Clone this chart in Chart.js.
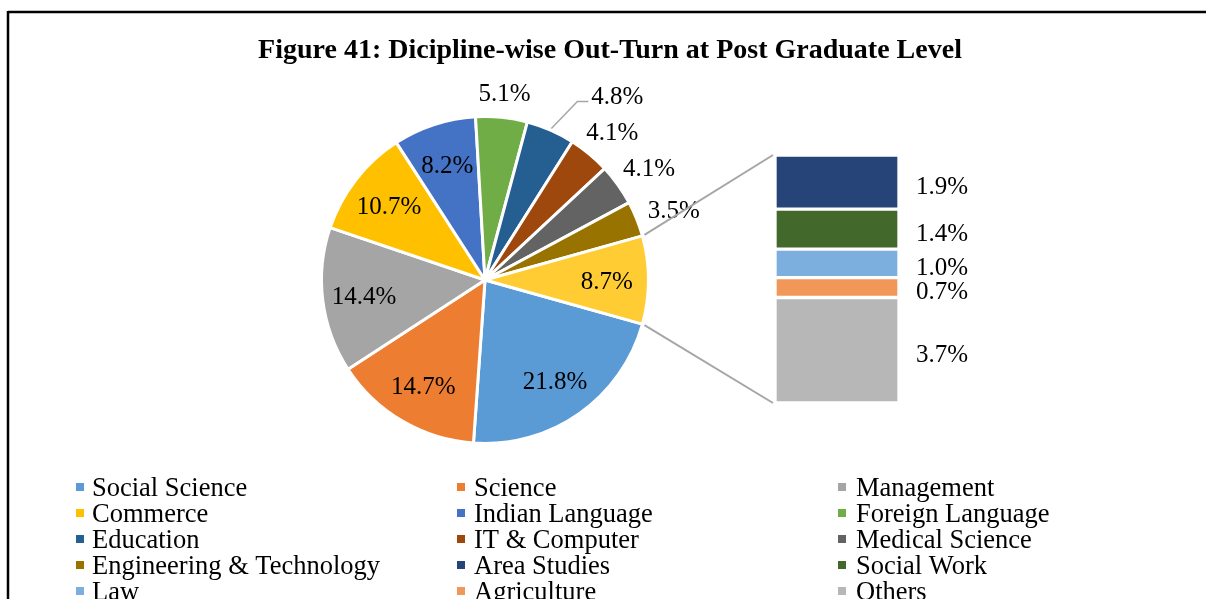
<!DOCTYPE html>
<html>
<head>
<meta charset="utf-8">
<script src="https://cdn.jsdelivr.net/npm/chart.js@4.4.1/dist/chart.umd.min.js"></script>
<style>
  html, body { margin: 0; padding: 0; background: #ffffff; overflow: hidden; }
  #wrap { position: relative; width: 1206px; height: 599px; }
  #wrap canvas { position: absolute; left: 0; top: 0; }
</style>
</head>
<body>
<div id="wrap">
  <canvas id="barCanvas" width="1206" height="599"></canvas>
  <canvas id="pieCanvas" width="1206" height="599"></canvas>
</div>
<script>
// ---- data ----
const titleText = 'Figure 41: Dicipline-wise Out-Turn at Post Graduate Level';

// pie slices, clockwise, last one is the combined "other" slice broken out in the bar
const pieLabels = ['Social Science', 'Science', 'Management', 'Commerce', 'Indian Language',
  'Foreign Language', 'Education', 'IT & Computer', 'Medical Science',
  'Engineering & Technology', 'Other'];
const pieValues = [21.8, 14.7, 14.4, 10.7, 8.2, 5.1, 4.8, 4.1, 4.1, 3.5, 8.7];

// breakdown of the "other" slice, top to bottom
const barLabels = ['Area Studies', 'Social Work', 'Law', 'Agriculture', 'Others'];
const barValues = [1.9, 1.4, 1.0, 0.7, 3.7];

// ---- styles ----
const pieColors = ['#5B9BD5', '#ED7D31', '#A5A5A5', '#FFC000', '#4472C4', '#70AD47',
  '#255E91', '#9E480E', '#636363', '#997300', '#FFCD33'];
const barColors = ['#264478', '#43682B', '#7CAFDD', '#F1975A', '#B7B7B7'];
// where each pie value label goes: inside, outside, or outside with a leader line
const labelPlacement = ['in', 'in', 'in', 'in', 'in', 'out', 'leader', 'out', 'out', 'out', 'in'];

const legendLabels = pieLabels.slice(0, 10).concat(barLabels);
const legendColors = pieColors.slice(0, 10).concat(barColors);

const SERIF = '"Liberation Serif", "Times New Roman", Times, serif';
const LABEL_FONT = '25px ' + SERIF;
const LEGEND_FONT = '26.5px ' + SERIF;
const TITLE_FONT = 'bold 28px ' + SERIF;
const CONNECTOR = '#A6A6A6';

Chart.defaults.font.family = SERIF;
Chart.defaults.animation = false;

const pct = v => v.toFixed(1) + '%';

// ---- bar of the "other" slice ----
const barLabelPlugin = {
  id: 'barValueLabels',
  afterDatasetsDraw(chart) {
    const ctx = chart.ctx;
    ctx.save();
    ctx.font = LABEL_FONT;
    ctx.fillStyle = '#000';
    ctx.textAlign = 'center';
    ctx.textBaseline = 'alphabetic';
    chart.data.datasets.forEach((ds, i) => {
      const el = chart.getDatasetMeta(i).data[0];
      const cy = (el.y + el.base) / 2;
      ctx.fillText(pct(ds.data[0]), chart.chartArea.right + 43, cy + 11.5);
    });
    ctx.restore();
  }
};

const barTotal = barValues.reduce((a, b) => a + b, 0);

const barChart = new Chart(document.getElementById('barCanvas'), {
  type: 'bar',
  data: {
    labels: [''],
    // stacked from the bottom up
    datasets: barLabels.map((label, i) => ({
      label,
      data: [barValues[i]],
      backgroundColor: barColors[i],
      borderColor: '#ffffff',
      borderWidth: 2,
      borderSkipped: false,
      barPercentage: 1,
      categoryPercentage: 1
    })).reverse()
  },
  options: {
    responsive: false,
    devicePixelRatio: 1,
    events: [],
    layout: { padding: { left: 775, right: 307, top: 155, bottom: 196 } },
    scales: {
      x: { display: false, stacked: true },
      y: { display: false, stacked: true, min: 0, max: barTotal }
    },
    plugins: { legend: { display: false }, tooltip: { enabled: false }, title: { display: false } }
  },
  plugins: [barLabelPlugin]
});

// ---- pie ----
const pieTotal = pieValues.reduce((a, b) => a + b, 0);
const otherIdx = pieValues.length - 1;
// centre the "other" slice on the right-hand side
const pieRotation = 90 + pieValues[otherIdx] / pieTotal * 180;

const decorPlugin = {
  id: 'decor',
  afterDraw(chart) {
    const ctx = chart.ctx;
    ctx.save();

    // frame
    ctx.strokeStyle = '#000';
    ctx.lineWidth = 2.5;
    ctx.beginPath();
    ctx.moveTo(8, 12); ctx.lineTo(1206, 12);
    ctx.moveTo(8, 11); ctx.lineTo(8, 599);
    ctx.stroke();

    // title
    ctx.fillStyle = '#000';
    ctx.font = TITLE_FONT;
    ctx.textAlign = 'center';
    ctx.textBaseline = 'alphabetic';
    ctx.fillText(titleText, 610, 58);

    // value labels on the pie
    const meta = chart.getDatasetMeta(0);
    ctx.font = LABEL_FONT;
    meta.data.forEach((arc, i) => {
      const mid = (arc.startAngle + arc.endAngle) / 2;
      const r = arc.outerRadius;
      const c = Math.cos(mid), s = Math.sin(mid);
      const text = pct(pieValues[i]);
      let lx, ly;
      if (labelPlacement[i] === 'in') {
        const d = 0.745 * r;
        lx = arc.x + c * d; ly = arc.y + s * d;
      } else if (labelPlacement[i] === 'out') {
        const ac = Math.abs(c);
        const d = r + 24 + 14 * ac;
        lx = arc.x + c * d + 3 * ac; ly = arc.y + s * d + 4 * ac;
      } else {
        const ex = arc.x + c * (r + 2), ey = arc.y + s * (r + 2);
        lx = ex + 66; ly = ey - 33;
        ctx.strokeStyle = CONNECTOR;
        ctx.lineWidth = 1.5;
        ctx.beginPath();
        ctx.moveTo(ex, ey);
        ctx.lineTo(lx - 40, ly + 6);
        ctx.lineTo(lx - 29, ly + 6);
        ctx.stroke();
      }
      ctx.fillStyle = '#000';
      ctx.fillText(text, lx, ly + 9);
    });

    // connectors from the "other" slice to the bar
    const other = meta.data[otherIdx];
    const bMetaTop = barChart.getDatasetMeta(barChart.data.datasets.length - 1).data[0];
    const bMetaBottom = barChart.getDatasetMeta(0).data[0];
    const rr = other.outerRadius;
    const p1 = [other.x + Math.cos(other.startAngle) * rr, other.y + Math.sin(other.startAngle) * rr];
    const p2 = [other.x + Math.cos(other.endAngle) * rr, other.y + Math.sin(other.endAngle) * rr];
    const leftX = bMetaTop.x - bMetaTop.width / 2 - 2;
    ctx.strokeStyle = CONNECTOR;
    ctx.lineWidth = 2;
    ctx.beginPath();
    ctx.moveTo(p1[0] + 2, p1[1] - 1); ctx.lineTo(leftX, bMetaTop.y);
    ctx.moveTo(p2[0] + 2, p2[1] + 1); ctx.lineTo(leftX, bMetaBottom.base);
    ctx.stroke();

    // legend, three columns, row by row
    const colMarkX = [76, 457, 838];
    const colTextX = [92, 474, 856];
    ctx.font = LEGEND_FONT;
    ctx.textAlign = 'left';
    legendLabels.forEach((label, i) => {
      const col = i % 3, row = Math.floor(i / 3);
      const base = 496 + row * 26;
      ctx.fillStyle = legendColors[i];
      ctx.fillRect(colMarkX[col], base - 13, 8, 8);
      ctx.fillStyle = '#000';
      ctx.fillText(label, colTextX[col], base);
    });

    ctx.restore();
  }
};

const pieChart = new Chart(document.getElementById('pieCanvas'), {
  type: 'pie',
  data: {
    labels: pieLabels,
    datasets: [{
      data: pieValues,
      backgroundColor: pieColors,
      borderColor: '#ffffff',
      borderWidth: 3
    }]
  },
  options: {
    responsive: false,
    devicePixelRatio: 1,
    events: [],
    rotation: pieRotation,
    layout: { padding: { left: 320, right: 556, top: 115, bottom: 154 } },
    plugins: { legend: { display: false }, tooltip: { enabled: false }, title: { display: false } }
  },
  plugins: [decorPlugin]
});
</script>
</body>
</html>
